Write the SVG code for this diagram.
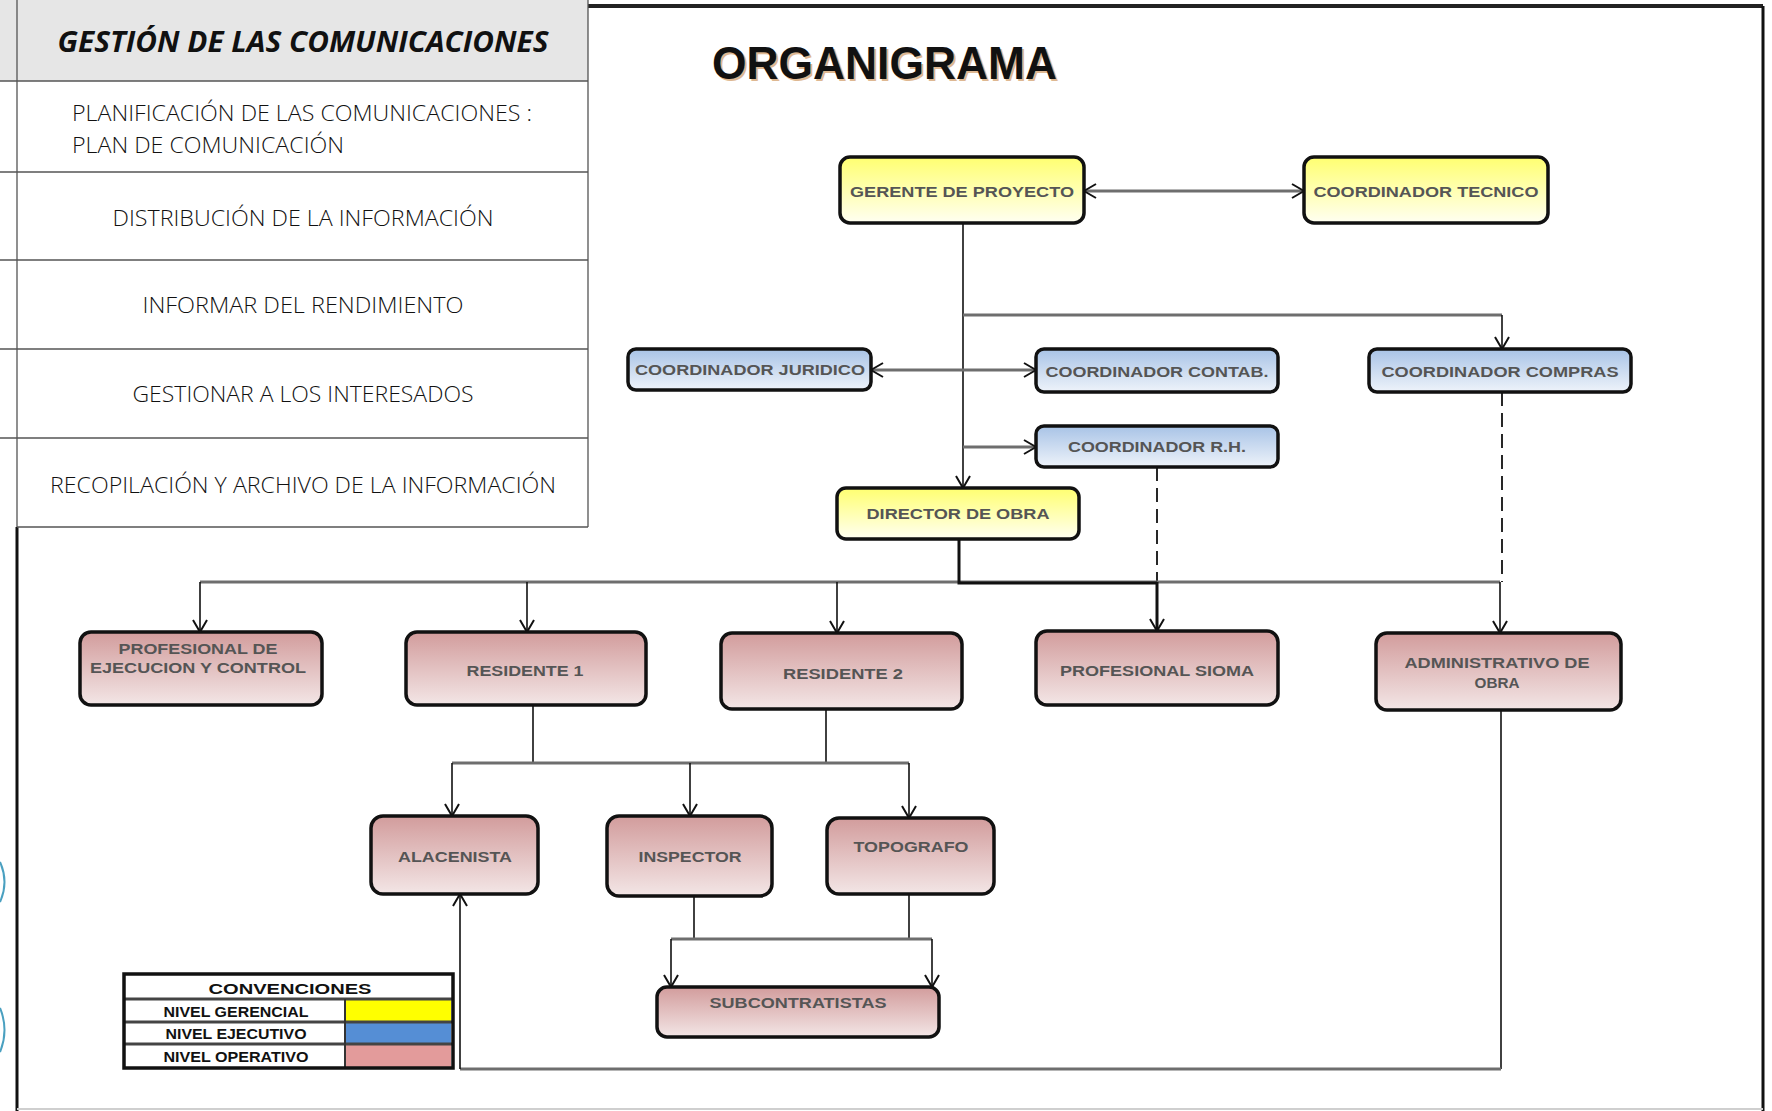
<svg xmlns="http://www.w3.org/2000/svg" width="1772" height="1111" viewBox="0 0 1772 1111">
<defs>
<linearGradient id="gY" x1="0" y1="0" x2="0" y2="1"><stop offset="0" stop-color="#ffff70"/><stop offset="1" stop-color="#fffff2"/></linearGradient>
<linearGradient id="gB" x1="0" y1="0" x2="0" y2="1"><stop offset="0" stop-color="#a8c3e6"/><stop offset="1" stop-color="#eef3fa"/></linearGradient>
<linearGradient id="gP" x1="0" y1="0" x2="0" y2="1"><stop offset="0" stop-color="#d29c9c"/><stop offset="1" stop-color="#f3e6e6"/></linearGradient>
<marker id="ar" markerUnits="userSpaceOnUse" markerWidth="14" markerHeight="16" viewBox="0 0 14 16" refX="13" refY="8" orient="auto-start-reverse">
<path d="M1,1 L13,8 L1,15" fill="none" stroke="#111" stroke-width="2"/>
</marker>
<style>
.tt{font-family:"Open Sans","Liberation Sans",sans-serif;font-weight:300;font-size:22px;fill:#111}
.th{font-family:"Open Sans","Liberation Sans",sans-serif;font-weight:700;font-style:italic;font-size:28px;fill:#111}
.tl{stroke:#555;stroke-width:1.3;fill:none}
.nd{stroke:#111;stroke-width:3.5}
.nt{font-family:"Liberation Sans",Arial,sans-serif;font-weight:700;font-size:14px;fill:#555;text-anchor:middle}
.thin{stroke:#111;stroke-width:1.6;fill:none}
.gr{stroke:#6e6e6e;stroke-width:3;fill:none}
.blk{stroke:#111;stroke-width:3;fill:none}
.dash{stroke:#111;stroke-width:1.8;fill:none;stroke-dasharray:14 7}
.lg{font-family:"Liberation Sans",Arial,sans-serif;font-weight:700;font-size:14px;fill:#111;text-anchor:middle}
</style>
</defs>
<rect width="1772" height="1111" fill="#fff"/>

<g id="frame">
<path d="M588,6 H1763" stroke="#222" stroke-width="4"/>
<path d="M1763,6 V1111" stroke="#111" stroke-width="3"/>
<path d="M17,527 V1111" stroke="#111" stroke-width="3"/>
<path d="M17,1109 H1763" stroke="#cfcfcf" stroke-width="2"/>
<path d="M0,862 Q9,882 0,902" stroke="#4aa0c0" stroke-width="2" fill="none"/>
<path d="M0,1008 Q9,1030 0,1052" stroke="#4aa0c0" stroke-width="2" fill="none"/>
</g>

<g id="table">
<rect x="0" y="0" width="588" height="81" fill="#e6e6e6"/>
<path class="tl" d="M0,81 H588 M0,172 H588 M0,260 H588 M0,349 H588 M0,438 H588 M17,527 H588 M588,0 V527 M17,0 V527"/>
<text class="th" x="303" y="52" text-anchor="middle" textLength="491" lengthAdjust="spacingAndGlyphs">GESTIÓN DE LAS COMUNICACIONES</text>
<text class="tt" x="72" y="121" textLength="460" lengthAdjust="spacingAndGlyphs">PLANIFICACIÓN DE LAS COMUNICACIONES :</text>
<text class="tt" x="72" y="153" textLength="272" lengthAdjust="spacingAndGlyphs">PLAN DE COMUNICACIÓN</text>
<text class="tt" x="303" y="226" text-anchor="middle" textLength="381" lengthAdjust="spacingAndGlyphs">DISTRIBUCIÓN DE LA INFORMACIÓN</text>
<text class="tt" x="303" y="313" text-anchor="middle" textLength="321" lengthAdjust="spacingAndGlyphs">INFORMAR DEL RENDIMIENTO</text>
<text class="tt" x="303" y="402" text-anchor="middle" textLength="341" lengthAdjust="spacingAndGlyphs">GESTIONAR A LOS INTERESADOS</text>
<text class="tt" x="303" y="493" text-anchor="middle" textLength="506" lengthAdjust="spacingAndGlyphs">RECOPILACIÓN Y ARCHIVO DE LA INFORMACIÓN</text>
</g>

<g id="title">
<text x="714" y="81" font-family="Liberation Sans,Arial,sans-serif" font-weight="700" font-size="46" fill="#c98a4a" opacity="0.6" textLength="345" lengthAdjust="spacingAndGlyphs">ORGANIGRAMA</text>
<text x="712" y="79" font-family="Liberation Sans,Arial,sans-serif" font-weight="700" font-size="46" fill="#111" textLength="345" lengthAdjust="spacingAndGlyphs">ORGANIGRAMA</text>
</g>

<g id="connectors">
<path class="gr" d="M1084,191 H1304" marker-start="url(#ar)" marker-end="url(#ar)"/>
<path class="thin" d="M963,223 V488" marker-end="url(#ar)"/>
<path class="gr" d="M963,315 H1502"/>
<path class="thin" d="M1502,315 V349" marker-end="url(#ar)"/>
<path class="gr" d="M871,370 H1036" marker-start="url(#ar)" marker-end="url(#ar)"/>
<path class="gr" d="M963,447 H1036" marker-end="url(#ar)"/>
<path class="dash" d="M1157,467 V582"/>
<path class="dash" d="M1502,392 V582"/>
<path class="gr" d="M200,582 H1500"/>
<path class="blk" d="M959,539 V583 H1157"/>
<path class="thin" d="M200,582 V632" marker-end="url(#ar)"/>
<path class="thin" d="M527,582 V632" marker-end="url(#ar)"/>
<path class="thin" d="M837,582 V633" marker-end="url(#ar)"/>
<path class="blk" d="M1157,582 V631" marker-end="url(#ar)"/>
<path class="thin" d="M1500,582 V633" marker-end="url(#ar)"/>
<path class="thin" d="M533,705 V763"/>
<path class="thin" d="M826,709 V763"/>
<path class="gr" d="M452,763 H909"/>
<path class="thin" d="M452,763 V816" marker-end="url(#ar)"/>
<path class="thin" d="M690,763 V816" marker-end="url(#ar)"/>
<path class="thin" d="M909,763 V818" marker-end="url(#ar)"/>
<path class="thin" d="M694,896 V939"/>
<path class="thin" d="M909,894 V939"/>
<path class="gr" d="M671,939 H932"/>
<path class="thin" d="M671,939 V987" marker-end="url(#ar)"/>
<path class="thin" d="M932,939 V987" marker-end="url(#ar)"/>
<path class="thin" d="M1501,710 V1069"/>
<path class="gr" d="M1501,1069 H460"/>
<path class="thin" d="M460,1069 V894" marker-end="url(#ar)"/>
</g>

<g id="n-gerente"><rect class="nd" x="840" y="157" width="244" height="66" rx="10" fill="url(#gY)"/><text class="nt" x="962" y="197" textLength="224" lengthAdjust="spacingAndGlyphs">GERENTE DE PROYECTO</text></g>
<g id="n-tecnico"><rect class="nd" x="1304" y="157" width="244" height="66" rx="10" fill="url(#gY)"/><text class="nt" x="1426" y="197" textLength="225" lengthAdjust="spacingAndGlyphs">COORDINADOR TECNICO</text></g>
<g id="n-juridico"><rect class="nd" x="628" y="349" width="243" height="41" rx="8" fill="url(#gB)"/><text class="nt" x="750" y="375" textLength="230" lengthAdjust="spacingAndGlyphs">COORDINADOR JURIDICO</text></g>
<g id="n-contab"><rect class="nd" x="1036" y="349" width="242" height="43" rx="8" fill="url(#gB)"/><text class="nt" x="1157" y="377" textLength="223" lengthAdjust="spacingAndGlyphs">COORDINADOR CONTAB.</text></g>
<g id="n-compras"><rect class="nd" x="1369" y="349" width="262" height="43" rx="8" fill="url(#gB)"/><text class="nt" x="1500" y="377" textLength="237" lengthAdjust="spacingAndGlyphs">COORDINADOR COMPRAS</text></g>
<g id="n-rh"><rect class="nd" x="1036" y="426" width="242" height="41" rx="8" fill="url(#gB)"/><text class="nt" x="1157" y="452" textLength="178" lengthAdjust="spacingAndGlyphs">COORDINADOR R.H.</text></g>
<g id="n-director"><rect class="nd" x="837" y="488" width="242" height="51" rx="9" fill="url(#gY)"/><text class="nt" x="958" y="519" textLength="183" lengthAdjust="spacingAndGlyphs">DIRECTOR DE OBRA</text></g>
<g id="n-profejec"><rect class="nd" x="80" y="632" width="242" height="73" rx="11" fill="url(#gP)"/><text class="nt" x="198" y="654" textLength="159" lengthAdjust="spacingAndGlyphs">PROFESIONAL DE</text><text class="nt" x="198" y="673" textLength="216" lengthAdjust="spacingAndGlyphs">EJECUCION Y CONTROL</text></g>
<g id="n-res1"><rect class="nd" x="406" y="632" width="240" height="73" rx="11" fill="url(#gP)"/><text class="nt" x="525" y="676" textLength="117" lengthAdjust="spacingAndGlyphs">RESIDENTE 1</text></g>
<g id="n-res2"><rect class="nd" x="721" y="633" width="241" height="76" rx="11" fill="url(#gP)"/><text class="nt" x="843" y="679" textLength="120" lengthAdjust="spacingAndGlyphs">RESIDENTE 2</text></g>
<g id="n-sioma"><rect class="nd" x="1036" y="631" width="242" height="74" rx="11" fill="url(#gP)"/><text class="nt" x="1157" y="676" textLength="194" lengthAdjust="spacingAndGlyphs">PROFESIONAL SIOMA</text></g>
<g id="n-admin"><rect class="nd" x="1376" y="633" width="245" height="77" rx="11" fill="url(#gP)"/><text class="nt" x="1497" y="668" textLength="185" lengthAdjust="spacingAndGlyphs">ADMINISTRATIVO DE</text><text class="nt" x="1497" y="688" textLength="45" lengthAdjust="spacingAndGlyphs">OBRA</text></g>
<g id="n-alacenista"><rect class="nd" x="371" y="816" width="167" height="78" rx="12" fill="url(#gP)"/><text class="nt" x="455" y="862" textLength="114" lengthAdjust="spacingAndGlyphs">ALACENISTA</text></g>
<g id="n-inspector"><rect class="nd" x="607" y="816" width="165" height="80" rx="12" fill="url(#gP)"/><text class="nt" x="690" y="862" textLength="103" lengthAdjust="spacingAndGlyphs">INSPECTOR</text></g>
<g id="n-topografo"><rect class="nd" x="827" y="818" width="167" height="76" rx="12" fill="url(#gP)"/><text class="nt" x="911" y="852" textLength="115" lengthAdjust="spacingAndGlyphs">TOPOGRAFO</text></g>
<g id="n-subcontratistas"><rect class="nd" x="657" y="987" width="282" height="50" rx="10" fill="url(#gP)"/><text class="nt" x="798" y="1008" textLength="177" lengthAdjust="spacingAndGlyphs">SUBCONTRATISTAS</text></g>

<g id="legend">
<rect x="345" y="999" width="106" height="23" fill="#ffff00"/>
<rect x="345" y="1022" width="106" height="22" fill="#558ed5"/>
<rect x="345" y="1044" width="106" height="24" fill="#e39b9b"/>
<path d="M124,999 H453 M124,1022 H453 M124,1044 H453" stroke="#444" stroke-width="3"/>
<path d="M345,999 V1068" stroke="#333" stroke-width="2"/>
<rect x="124" y="974" width="329" height="94" fill="none" stroke="#111" stroke-width="3.5"/>
<text class="lg" x="290" y="994" font-size="16" font-weight="900" textLength="163" lengthAdjust="spacingAndGlyphs">CONVENCIONES</text>
<text class="lg" x="236" y="1017" textLength="145" lengthAdjust="spacingAndGlyphs">NIVEL GERENCIAL</text>
<text class="lg" x="236" y="1039" textLength="141" lengthAdjust="spacingAndGlyphs">NIVEL EJECUTIVO</text>
<text class="lg" x="236" y="1062" textLength="145" lengthAdjust="spacingAndGlyphs">NIVEL OPERATIVO</text>
</g>
</svg>
